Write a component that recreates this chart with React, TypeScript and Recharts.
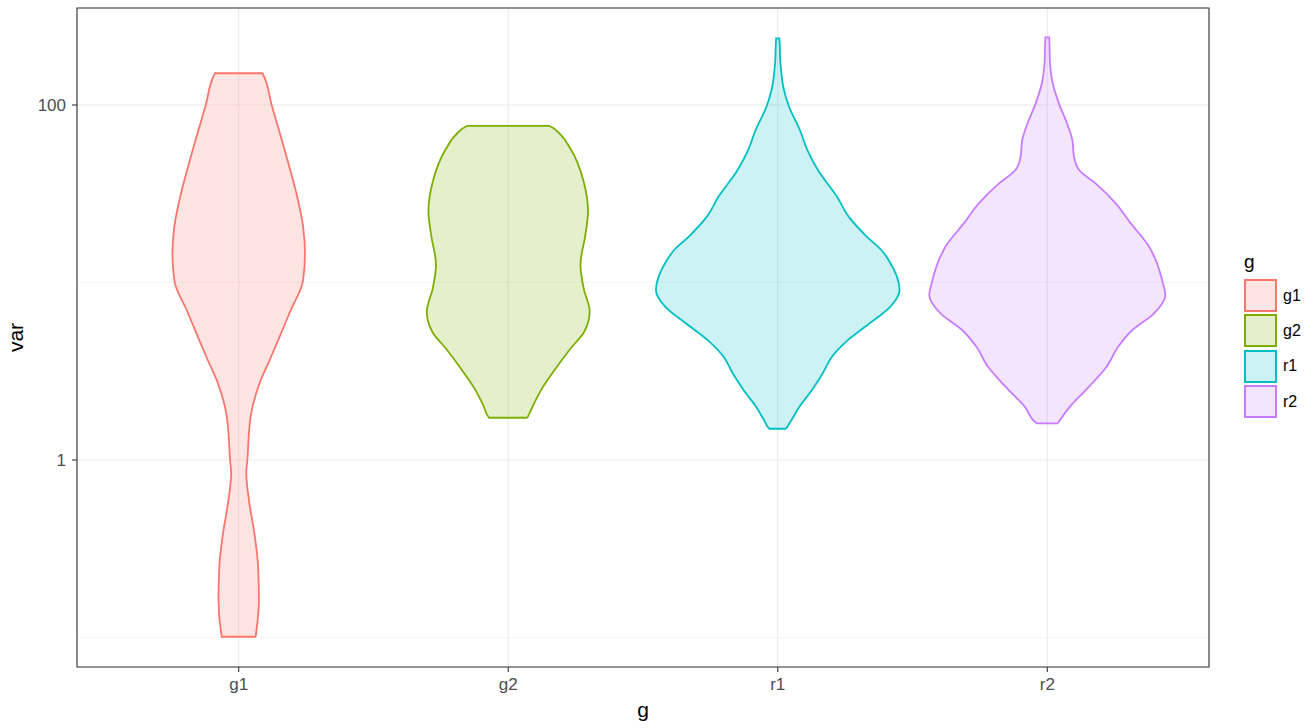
import { CartesianGrid, Legend, ReferenceArea, Scatter, ScatterChart, XAxis, YAxis } from "recharts";

const GROUPS = ["g1", "g2", "r1", "r2"];
const COLORS = ["#F8766D", "#7CAE00", "#00BFC4", "#C77CFF"];

// log y range of the panel and the two labelled breaks
const Y_MIN = 0.0682;
const Y_MAX = 352;
const Y_TICKS = [1, 100];
const Y_MINOR = [0.1, 10];

// violin outlines, bottom to top:
// var value and half width of the violin (in category units)
const G1_VAR = [0.101, 0.163, 0.25, 0.388, 0.595, 0.84, 1.0, 1.75, 2.7, 3.66, 4.95, 7.0, 10.1, 14.6, 20.6, 31.8, 49, 99, 151];
const G1_HALF = [0.063, 0.075, 0.072, 0.058, 0.038, 0.028, 0.032, 0.044, 0.077, 0.115, 0.152, 0.193, 0.238, 0.246, 0.239, 0.214, 0.181, 0.123, 0.088];

const G2_VAR = [1.73, 2.04, 2.54, 3.28, 4.26, 5.28, 6.85, 9.27, 12.6, 18.5, 25.1, 37.0, 57.0, 67.8, 76.2];
const G2_HALF = [0.071, 0.093, 0.126, 0.176, 0.232, 0.282, 0.302, 0.28, 0.268, 0.286, 0.296, 0.28, 0.23, 0.195, 0.153];

const R1_VAR = [1.5, 1.68, 2.0, 2.48, 3.08, 3.82, 4.74, 5.89, 7.31, 9.07, 13.4, 15.2, 18.1, 23.5, 30.4, 43.0, 55.7, 72.3, 97.8, 121.5, 171.8, 237.6];
const R1_HALF = [0.031, 0.051, 0.081, 0.127, 0.167, 0.201, 0.26, 0.341, 0.418, 0.452, 0.411, 0.385, 0.331, 0.263, 0.22, 0.149, 0.11, 0.082, 0.042, 0.023, 0.01, 0.006];

const R2_VAR = [1.61, 2.0, 2.59, 3.35, 4.35, 5.4, 6.7, 8.51, 9.89, 13.4, 15.9, 21.6, 27.9, 36.2, 43.0, 51.1, 63.5, 78.9, 102.2, 132.5, 171.8, 240.5];
const R2_HALF = [0.039, 0.084, 0.155, 0.22, 0.263, 0.316, 0.396, 0.438, 0.429, 0.402, 0.378, 0.309, 0.254, 0.179, 0.118, 0.099, 0.093, 0.073, 0.043, 0.02, 0.01, 0.007];

const VIOLINS = [
  { vars: G1_VAR, half: G1_HALF },
  { vars: G2_VAR, half: G2_HALF },
  { vars: R1_VAR, half: R1_HALF },
  { vars: R2_VAR, half: R2_HALF },
];

// closed outline: up the right side, down the left side, back to start
function outline(center: number, vars: number[], half: number[]) {
  const right = vars.map((v, i) => ({ x: center + half[i], y: v }));
  const left = vars.map((v, i) => ({ x: center - half[i], y: v })).reverse();
  return [...right, ...left, right[0]];
}

const FONT = "'Liberation Sans', Arial, sans-serif";

function LegendBox() {
  return (
    <div style={{ fontFamily: FONT, color: "#000" }}>
      <div style={{ fontSize: 19, lineHeight: "24px", height: 28 }}>g</div>
      {GROUPS.map((g, i) => (
        <div key={g} style={{ display: "flex", alignItems: "center", height: 35.3 }}>
          <div
            style={{
              width: 33,
              height: 33,
              boxSizing: "border-box",
              border: `2px solid ${COLORS[i]}`,
              background: COLORS[i] + "33",
            }}
          />
          <span style={{ fontSize: 16, marginLeft: 6 }}>{g}</span>
        </div>
      ))}
    </div>
  );
}

export default function App() {
  return (
    <div style={{ position: "absolute", left: 0, top: 0, width: 1313, height: 728, background: "#fff" }}>
      <ScatterChart width={1313} height={728} margin={{ top: 8, right: 104, bottom: 0, left: 0 }}>
        <CartesianGrid stroke="#EBEBEB" strokeWidth={1.1} />
        <CartesianGrid stroke="#EBEBEB" strokeWidth={0.55} vertical={false} horizontalValues={Y_MINOR} />
        <XAxis
          type="number"
          dataKey="x"
          domain={[0.4, 4.6]}
          allowDataOverflow
          ticks={[1, 2, 3, 4]}
          interval={0}
          tickFormatter={(v: number) => GROUPS[v - 1]}
          height={61}
          axisLine={false}
          tickSize={5}
          tickMargin={6}
          tickLine={{ stroke: "#333333", strokeWidth: 1.1 }}
          tick={{ fill: "#4D4D4D", fontSize: 17, fontFamily: FONT }}
          label={{ value: "g", position: "insideBottom", offset: 11, fill: "#000", fontSize: 21, fontFamily: FONT }}
        />
        <YAxis
          type="number"
          dataKey="y"
          scale="log"
          domain={[Y_MIN, Y_MAX]}
          allowDataOverflow
          ticks={Y_TICKS}
          interval={0}
          width={77}
          axisLine={false}
          tickSize={5}
          tickMargin={6}
          tickLine={{ stroke: "#333333", strokeWidth: 1.1 }}
          tick={{ fill: "#4D4D4D", fontSize: 17, fontFamily: FONT }}
          label={{
            value: "var",
            angle: -90,
            position: "insideLeft",
            offset: 16,
            fill: "#000",
            fontSize: 21,
            fontFamily: FONT,
            style: { textAnchor: "middle" },
          }}
        />
        {VIOLINS.map((v, i) => (
          <Scatter
            key={GROUPS[i]}
            name={GROUPS[i]}
            data={outline(i + 1, v.vars, v.half)}
            isAnimationActive={false}
            shape={() => <g />}
            lineType="joint"
            lineJointType="monotoneY"
            line={{ stroke: COLORS[i], strokeWidth: 1.8, fill: COLORS[i], fillOpacity: 0.2 }}
          />
        ))}
        <ReferenceArea
          x1={0.4}
          x2={4.6}
          y1={Y_MIN}
          y2={Y_MAX}
          fill="none"
          stroke="#333333"
          strokeWidth={1.1}
          ifOverflow="visible"
        />
        <Legend
          layout="horizontal"
          verticalAlign="middle"
          align="center"
          wrapperStyle={{ left: 1244, top: 250, width: 70 }}
          content={() => <LegendBox />}
        />
      </ScatterChart>
    </div>
  );
}
